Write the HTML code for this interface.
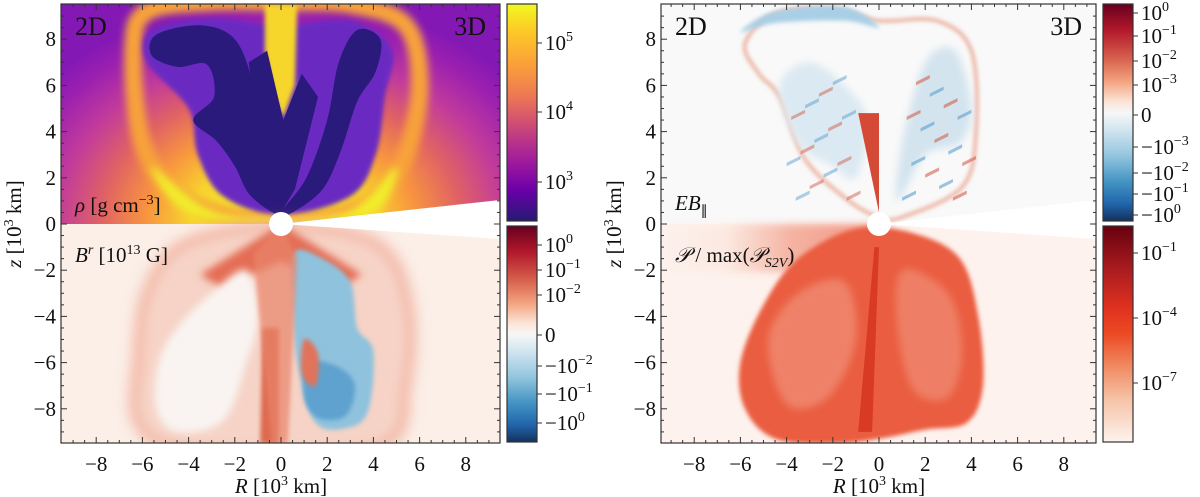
<!DOCTYPE html>
<html><head><meta charset="utf-8">
<style>
html,body{margin:0;padding:0;background:#fff;}
body{width:1200px;height:497px;overflow:hidden;font-family:"Liberation Serif",serif;}
svg{display:block}
text{font-family:"Liberation Serif",serif;fill:#111}
</style></head>
<body>
<svg id="fig" width="1200" height="497" viewBox="0 0 1200 497" xmlns="http://www.w3.org/2000/svg">
<defs>
  <filter id="b2" x="-20%" y="-20%" width="140%" height="140%"><feGaussianBlur stdDeviation="2"/></filter>
  <filter id="b4" x="-20%" y="-20%" width="140%" height="140%"><feGaussianBlur stdDeviation="4"/></filter>
  <filter id="b8" x="-30%" y="-30%" width="160%" height="160%"><feGaussianBlur stdDeviation="8"/></filter>
  <radialGradient id="rhoBg" cx="281" cy="224" r="300" gradientUnits="userSpaceOnUse" gradientTransform="translate(0,224) scale(1,0.75) translate(0,-224)">
    <stop offset="0" stop-color="#f0f921"/>
    <stop offset="0.3" stop-color="#f7d42e"/>
    <stop offset="0.45" stop-color="#f8953f"/>
    <stop offset="0.6" stop-color="#e06264"/>
    <stop offset="0.75" stop-color="#c23b9b"/>
    <stop offset="0.9" stop-color="#9c20b0"/>
    <stop offset="1" stop-color="#8418b4"/>
  </radialGradient>
  <linearGradient id="cbPlasma" x1="0" y1="0" x2="0" y2="1">
    <stop offset="0" stop-color="#f0f921"/><stop offset="0.12" stop-color="#fdca26"/>
    <stop offset="0.28" stop-color="#fb9f3a"/><stop offset="0.42" stop-color="#ed7953"/>
    <stop offset="0.52" stop-color="#d8576b"/><stop offset="0.62" stop-color="#bd3786"/>
    <stop offset="0.74" stop-color="#9c179e"/><stop offset="0.86" stop-color="#6a00a8"/>
    <stop offset="1" stop-color="#241a72"/>
  </linearGradient>
  <linearGradient id="cbRdBu" x1="0" y1="0" x2="0" y2="1">
    <stop offset="0" stop-color="#67001f"/><stop offset="0.12" stop-color="#b2182b"/>
    <stop offset="0.25" stop-color="#d6604d"/><stop offset="0.36" stop-color="#f4a582"/>
    <stop offset="0.45" stop-color="#fbe4d6"/><stop offset="0.5" stop-color="#f7f7f7"/>
    <stop offset="0.58" stop-color="#d1e5f0"/><stop offset="0.7" stop-color="#92c5de"/>
    <stop offset="0.82" stop-color="#4393c3"/><stop offset="0.92" stop-color="#2166ac"/>
    <stop offset="1" stop-color="#14305e"/>
  </linearGradient>
  <linearGradient id="cbReds" x1="0" y1="0" x2="0" y2="1">
    <stop offset="0" stop-color="#67000d"/><stop offset="0.2" stop-color="#a91c1f"/>
    <stop offset="0.38" stop-color="#e0311f"/><stop offset="0.5" stop-color="#ec4a24"/>
    <stop offset="0.65" stop-color="#f08a62"/><stop offset="0.8" stop-color="#f6c2a6"/>
    <stop offset="1" stop-color="#fdf3ee"/>
  </linearGradient>
  <linearGradient id="pFade" x1="0" y1="0" x2="1" y2="0">
    <stop offset="0" stop-color="#fdf1ec"/><stop offset="0.3" stop-color="#fbe3d9"/>
    <stop offset="0.6" stop-color="#f08a70"/><stop offset="1" stop-color="#e8553a"/>
  </linearGradient>
  <clipPath id="clipL"><rect x="61" y="4" width="439" height="439"/></clipPath>
  <clipPath id="clipR"><rect x="661" y="4" width="435" height="439"/></clipPath>
</defs>
<g id="layer"></g>
</svg>
<script>
// axis tick data
const xTicks = [-8,-6,-4,-2,0,2,4,6,8];
const yTicks = [-8,-6,-4,-2,0,2,4,6,8];
const rhoTicks = [{lab:'10',exp:'5',y:43},{lab:'10',exp:'4',y:112},{lab:'10',exp:'3',y:182}];
const brTicks = [['10','0',245],['10','\u22121',270],['10','\u22122',295],['0','',335],['\u221210','\u22122',366],['\u221210','\u22121',394],['\u221210','0',423]];
const ebTicks = [['10','0',13],['10','\u22121',36],['10','\u22122',61],['10','\u22123',85],['0','',115],['\u221210','\u22123',147],['\u221210','\u22122',173],['\u221210','\u22121',194],['\u221210','0',215]];
const pTicks = [['10','\u22121',253],['10','\u22124',318],['10','\u22127',383]];

const NS='http://www.w3.org/2000/svg';
const svg=document.getElementById('layer');
const S=23.1, Y0=224;
const panels=[{x0:281,left:61,right:500,clip:'clipL'},{x0:879,left:661,right:1096,clip:'clipR'}];
function el(tag,attrs,parent){const e=document.createElementNS(NS,tag);for(const k in attrs)e.setAttribute(k,attrs[k]);(parent||svg).appendChild(e);return e;}
function path(p,pts){let d='';pts.forEach((q,i)=>{const x=p.x0+q[0]*S,y=Y0-q[1]*S;d+=(i?'L':'M')+x.toFixed(1)+','+y.toFixed(1);});return d+'Z';}
function smooth(p,pts){
  const P=pts.map(q=>[p.x0+q[0]*S,Y0-q[1]*S]);const n=P.length;let d='M'+P[0][0]+','+P[0][1];
  for(let i=0;i<n;i++){const p0=P[(i-1+n)%n],p1=P[i],p2=P[(i+1)%n],p3=P[(i+2)%n];
    d+='C'+(p1[0]+(p2[0]-p0[0])/6).toFixed(1)+','+(p1[1]+(p2[1]-p0[1])/6).toFixed(1)+' '+(p2[0]-(p3[0]-p1[0])/6).toFixed(1)+','+(p2[1]-(p3[1]-p1[1])/6).toFixed(1)+' '+p2[0].toFixed(1)+','+p2[1].toFixed(1);}
  return d+'Z';}

// ---------- LEFT PANEL ----------
const L=panels[0];
const gL=el('g',{'clip-path':'url(#clipL)'});


el('rect',{x:61,y:4,width:439,height:220,fill:'url(#rhoBg)'},gL);
// orange shell ring
el('path',{d:smooth(L,[[-6.4,7.5],[-5.8,9.2],[-3,9.6],[0,9.6],[3,9.5],[5.4,8.6],[6,6],[5.4,3],[4.2,1.2],[2,0.3],[-2,0.3],[-4.5,1.3],[-6,3.5]]),fill:'none',stroke:'#f7a23a','stroke-width':18,filter:'url(#b4)'},gL);
el('path',{d:smooth(L,[[-5.6,2.5],[-3,0.6],[0,0.3],[3,0.6],[5,2.5],[4,0.4],[0,0],[-4,0.4]]),fill:'#f2ec2a',filter:'url(#b4)'},gL);
// purple interior
el('path',{d:smooth(L,[[-5.6,8.4],[-3,8.9],[0,8.6],[3,8.8],[4.8,7.6],[4.5,5.5],[4.1,3],[3,1.2],[0,0.4],[-2.5,1.2],[-3.6,3],[-4,5],[-5.8,7]]),fill:'#6a2bc2',filter:'url(#b2)'},gL);
// jet
el('path',{d:path(L,[[-0.7,9.5],[0.7,9.5],[0.6,6],[0.1,4.6],[-0.3,5.5],[-0.7,7.5]]),fill:'#f6d62b',filter:'url(#b2)'},gL);
// navy V and lobes
el('path',{d:smooth(L,[[0,0.5],[-0.7,3],[-1.2,6],[-2,8],[-3.5,8.6],[-5.4,8.2],[-5.6,7.3],[-4.5,6.8],[-3.2,6.9],[-2.9,5.5],[-3.8,4.5],[-2.8,3.6],[-2,2.5],[-1.3,1.2]]),fill:'#2a1a7c'},gL);
el('path',{d:smooth(L,[[0,0.5],[1.1,2],[2,4.5],[2.5,7],[3.3,8.4],[4.3,8],[4.1,6.6],[3.3,5.3],[2.6,3.2],[1.8,1.5],[0.5,0.5]]),fill:'#2a1a7c'},gL);
el('path',{d:path(L,[[0,0.5],[-1,4],[-1.4,7],[-0.6,7.5],[0.1,4.5],[0.9,6.5],[1.6,5.5],[0.6,1.5]]),fill:'#2a1a7c'},gL);
// lower half
el('rect',{x:61,y:224,width:439,height:220,fill:'#fbefe8'},gL);
el('path',{d:smooth(L,[[-6,-6],[-5.6,-3],[-4,-1],[0,-0.3],[4,-1],[5.3,-3.5],[5.2,-7],[4,-9.5],[-4,-9.5],[-6,-8.5]]),fill:'none',stroke:'#ef9f88','stroke-width':14,filter:'url(#b8)'},gL);
el('path',{d:smooth(L,[[-6,-6],[-5.6,-3],[-4,-1],[0,-0.3],[4,-1],[5.3,-3.5],[5.2,-7],[4,-9.5],[-4,-9.5],[-6,-8.5]]),fill:'#f6d3c6',filter:'url(#b8)'},gL);
el('path',{d:path(L,[[0,0],[-3.5,-2.2],[-2.5,-2.8],[0,-1.6],[2.5,-2.8],[3.5,-2.2],[0,0]]),fill:'#e46d55',filter:'url(#b4)'},gL);
el('path',{d:smooth(L,[[-5.3,-6],[-4.5,-4.5],[-3,-3],[-1.5,-2],[-1,-4],[-1.5,-6],[-2.5,-8.5],[-4.5,-9],[-5.4,-8]]),fill:'#f9f4f2',filter:'url(#b4)'},gL);
el('path',{d:smooth(L,[[0.6,-1.2],[1.8,-1.5],[3,-2.5],[3.3,-4.5],[4,-5.5],[3.8,-8],[3,-8.8],[1.5,-8.6],[0.7,-6],[0.5,-3]]),fill:'#8fc2dd',filter:'url(#b2)'},gL);
el('path',{d:smooth(L,[[1.2,-6],[2.5,-6.2],[3.2,-7],[2.8,-8.3],[1.6,-8.4],[1,-7.5]]),fill:'#5ea2cf',filter:'url(#b2)'},gL);
el('path',{d:smooth(L,[[1,-5],[1.6,-5.6],[1.5,-7],[0.9,-6.5]]),fill:'#e0735a',filter:'url(#b2)'},gL);
el('path',{d:path(L,[[-0.8,-4.5],[-0.1,-4.5],[-0.1,-9.5],[-0.9,-9.5]]),fill:'#dd6a50',filter:'url(#b2)'},gL);
el('path',{d:path(L,[[0,0],[0.7,-1.5],[0.3,-9.5],[-0.4,-9.5],[-1.2,-1.3]]),fill:'#e9846b',opacity:0.7,filter:'url(#b2)'},gL);
el('path',{d:`M${L.x0},224 L500,200 L500,239 Z`,fill:'#fff'},gL);
el('circle',{cx:L.x0,cy:224,r:12,fill:'#fff'},gL);

// ---------- RIGHT PANEL ----------
const R=panels[1];
const gR=el('g',{'clip-path':'url(#clipR)'});


el('rect',{x:661,y:4,width:435,height:220,fill:'#f9f9f9'},gR);
el('path',{d:smooth(R,[[-5.8,7.8],[-4.5,9.1],[-2,9.3],[0,8.8],[2.5,8.8],[4,7.5],[4.2,4],[3.6,1.6],[1,0.3],[0,0.3],[-1.3,1],[-3.2,2.8],[-4.3,5.5],[-5.2,6.5]]),fill:'none',stroke:'#e8a08a','stroke-width':3,filter:'url(#b2)'},gR);
el('path',{d:smooth(R,[[-4.3,6],[-3,7],[-1.5,6],[-0.5,4.5],[-1,2],[-2,2.5],[-3.5,3.5]]),fill:'#dbe9f2',filter:'url(#b4)'},gR);
el('path',{d:smooth(R,[[0.8,1],[2,3],[3.5,3.5],[4,5],[3.3,7.5],[2,7],[1,3.5]]),fill:'#d3e4ef',filter:'url(#b4)'},gR);
for(let i=0;i<14;i++){const r=1+i*0.2, z=1+((i*7)%11)*0.5;
  el('path',{d:path(R,[[r,z],[r+0.6,z+0.3],[r+0.6,z+0.45],[r,z+0.15]]),fill:i%2?'#d2604d':'#5e9fcc',opacity:0.6},gR);
  el('path',{d:path(R,[[-r-0.4,z],[-r+0.2,z+0.3],[-r+0.2,z+0.45],[-r-0.4,z+0.15]]),fill:i%2?'#5e9fcc':'#d2604d',opacity:0.5},gR);}
el('path',{d:path(R,[[0,0.5],[-0.9,4.8],[0,4.8]]),fill:'#d44a36'},gR);
el('path',{d:smooth(R,[[-6,8.3],[-4.5,9.2],[-1.5,9.4],[0,8.5],[-1.5,8.8],[-4.5,8.7]]),fill:'#a8cfe6',filter:'url(#b2)'},gR);
// lower half
el('rect',{x:661,y:224,width:435,height:220,fill:'#fdf2ed'},gR);
el('rect',{x:661,y:224,width:218,height:48,fill:'url(#pFade)',opacity:0.6,filter:'url(#b4)'},gR);
el('path',{d:smooth(R,[[-6,-6],[-5,-3.5],[-3.5,-1.5],[-1,-0.2],[1.5,-0.4],[3.5,-1.5],[4.3,-4],[4.5,-7],[3.8,-8.6],[2,-8.9],[0,-9.3],[-2,-9.5],[-4.5,-9.3],[-5.8,-8]]),fill:'#ea5d40',filter:'url(#b2)'},gR);
el('path',{d:smooth(R,[[-4.8,-5],[-3.5,-3],[-1.5,-2.5],[-1,-5],[-2.2,-7.5],[-4,-7.8]]),fill:'#f3a08a',opacity:0.55,filter:'url(#b4)'},gR);
el('path',{d:smooth(R,[[1,-2],[3,-3],[3.6,-5.5],[3,-7.5],[1.5,-7.2],[0.8,-4.5]]),fill:'#f3a08a',opacity:0.5,filter:'url(#b4)'},gR);
el('path',{d:path(R,[[-0.9,-9],[-0.3,-9],[0,-1],[-0.2,-1]]),fill:'#d83a22'},gR);
el('path',{d:`M${R.x0},224 L1096,200 L1096,239 Z`,fill:'#fff'},gR);
el('circle',{cx:R.x0,cy:224,r:12,fill:'#fff'},gR);

// ---------- AXES ----------
panels.forEach((p,pi)=>{
  const f=el('rect',{x:p.left,y:4,width:p.right-p.left,height:439,fill:'none',stroke:'#333','stroke-width':1.2});
  
  
  for(let v=-9.5;v<=9.5;v+=0.5){
    const major=Math.abs(v%2)<1e-9; const len=major?6:3;
    const x=p.x0+v*S, y=Y0-v*S;
    if(x>p.left+1&&x<p.right-1){el('line',{x1:x,y1:443,x2:x,y2:443-len,stroke:'#333'});el('line',{x1:x,y1:4,x2:x,y2:4+len,stroke:'#333'});}
    if(y>5&&y<442){el('line',{x1:p.left,y1:y,x2:p.left+len,y2:y,stroke:'#333'});el('line',{x1:p.right,y1:y,x2:p.right-len,y2:y,stroke:'#333'});}
  }
  xTicks.forEach(v=>{const t=el('text',{x:p.x0+v*S,y:471,'font-size':21,'text-anchor':'middle'});t.textContent=(v<0?'\u2212':'')+Math.abs(v);
    
    });
  yTicks.forEach(v=>{const t=el('text',{x:p.left-5,y:Y0-v*S+7,'font-size':21,'text-anchor':'end'});t.textContent=(v<0?'\u2212':'')+Math.abs(v);
    
    });
  const xl=el('text',{x:p.x0,y:493,'font-size':21,'text-anchor':'middle'});
  xl.innerHTML='<tspan font-style="italic">R</tspan> [10<tspan dy="-8" font-size="14">3</tspan><tspan dy="8"> km]</tspan>';
  
  
  const yl=el('text',{x:0,y:0,'font-size':21,'text-anchor':'middle',transform:`translate(${p.left-40},224) rotate(-90)`});
  yl.innerHTML='<tspan font-style="italic">z</tspan> [10<tspan dy="-8" font-size="14">3</tspan><tspan dy="8"> km]</tspan>';
  
  
  const t2=el('text',{x:p.left+14,y:35,'font-size':26});t2.textContent='2D';
  
  
  const t3=el('text',{x:p.right-14,y:35,'font-size':26,'text-anchor':'end'});t3.textContent='3D';
  
  
});
let q=el('text',{x:75,y:212,'font-size':21});q.innerHTML='<tspan font-style="italic">ρ</tspan> [g cm<tspan dy="-8" font-size="14">−3</tspan><tspan dy="8">]</tspan>';


q=el('text',{x:75,y:262,'font-size':21});q.innerHTML='<tspan font-style="italic">B</tspan><tspan dy="-8" font-size="14" font-style="italic">r</tspan><tspan dy="8"> [10</tspan><tspan dy="-8" font-size="14">13</tspan><tspan dy="8"> G]</tspan>';


q=el('text',{x:675,y:210,'font-size':21,'font-style':'italic'});q.innerHTML='EB<tspan dy="5" font-size="14" font-style="normal">∥</tspan>';


q=el('text',{x:675,y:262,'font-size':21});q.innerHTML='<tspan font-style="italic">𝒫</tspan> / max(<tspan font-style="italic">𝒫</tspan><tspan dy="5" font-size="14" font-style="italic">S2V</tspan><tspan dy="-5">)</tspan>';



function cbar(x,y1,y2,grad,name,ticks){
  const r=el('rect',{x:x,y:y1,width:30,height:y2-y1,fill:`url(#${grad})`,stroke:'#333','stroke-width':1.2});
  
  
  ticks.forEach(t=>{el('line',{x1:x+30,y1:t[2],x2:x+35,y2:t[2],stroke:'#333'});
    const tx=el('text',{x:x+38,y:t[2]+7,'font-size':21});
    tx.innerHTML=t[0]+(t[1]?`<tspan dy="-9" font-size="14">${t[1]}</tspan>`:'');
    
    });
}
cbar(507,4,221,'cbPlasma','density-colorbar',rhoTicks.map(t=>[t.lab,t.exp,t.y]));
cbar(507,226,442,'cbRdBu','magnetic-field-colorbar',brTicks);
cbar(1103,4,221,'cbRdBu','eb-colorbar',ebTicks);
cbar(1103,226,442,'cbReds','poynting-colorbar',pTicks);
</script>
</body></html>
